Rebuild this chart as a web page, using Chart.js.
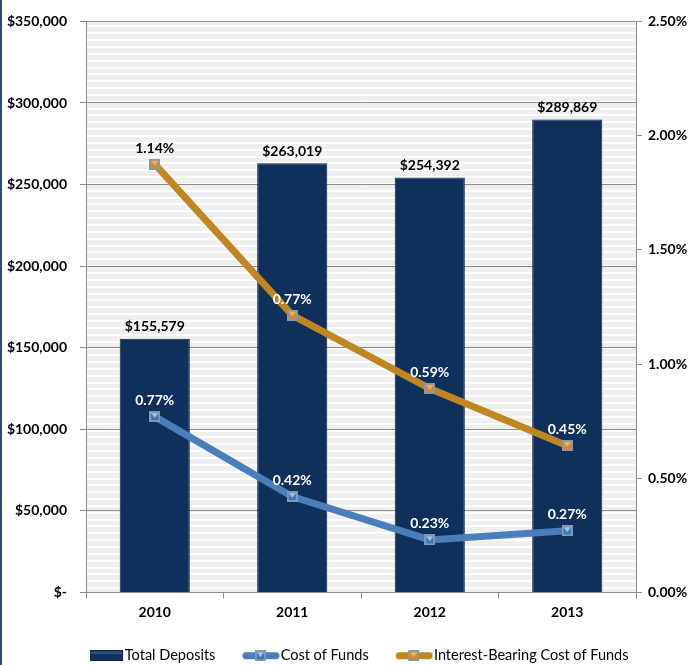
<!DOCTYPE html>
<html>
<head>
<meta charset="utf-8">
<script src="https://cdn.jsdelivr.net/npm/chart.js@4"></script>
<style>
  html, body { margin: 0; padding: 0; background: #fff; }
  #wrap { position: relative; width: 694px; height: 665px; }
  #edge { position: absolute; left: 0; top: 0; width: 2px; height: 665px; background: #2c4a7c; }
</style>
</head>
<body>
<div id="wrap">
  <canvas id="depositsChart" width="694" height="665"></canvas>
  <div id="edge"></div>
</div>
<script>
// data
const years = ['2010', '2011', '2012', '2013'];
const totalDeposits = [155579, 263019, 254392, 289869];
const costOfFunds = [0.77, 0.42, 0.23, 0.27];
const interestBearingCost = [1.14, 0.77, 0.59, 0.45];
const seriesNames = ['Total Deposits', 'Cost of Funds', 'Interest-Bearing Cost of Funds'];

const FONT = 'Lato, "Open Sans", sans-serif';
const NAVY = '#10305c';
const BLUE = '#4a7ebb';
const ORANGE = '#c0861f';

// little square markers with a triangle inside
function makeMarker(fill, tri) {
    const c = document.createElement('canvas');
    c.width = 11; c.height = 11;
    const g = c.getContext('2d');
    g.fillStyle = '#8797ad';
    g.fillRect(0, 0, 11, 11);
    g.fillStyle = fill;
    g.fillRect(2, 2, 7, 7);
    g.fillStyle = tri;
    g.beginPath();
    g.moveTo(2, 2); g.lineTo(9, 2); g.lineTo(5.5, 7); g.closePath();
    g.fill();
    return c;
}
const blueMarker = makeMarker('#3a73ba', '#93c6f2');
const orangeMarker = makeMarker('#d9862a', '#f7b24a');

// legend swatches: drawn at the right end of a wider canvas so they sit
// close to their text and leave a larger gap before each item
const SW_W = 65;
function swatchCanvas(draw, w) {
    const c = document.createElement('canvas');
    c.width = SW_W; c.height = 11;
    const g = c.getContext('2d');
    g.translate(SW_W - w, 0);
    draw(g);
    return c;
}
function barSwatch() {
    return swatchCanvas(g => {
        g.fillStyle = '#0c2548';
        g.fillRect(0, 0, 33, 11);
        g.fillStyle = '#2d4f80';
        g.fillRect(1, 1, 31, 3);
        g.fillStyle = NAVY;
        g.fillRect(1, 4, 31, 6);
    }, 34);
}
function lineSwatch(color, marker) {
    return swatchCanvas(g => {
        g.strokeStyle = color;
        g.lineWidth = 7;
        g.lineCap = 'round';
        g.beginPath(); g.moveTo(4, 5.5); g.lineTo(34, 5.5); g.stroke();
        g.drawImage(marker, 13, 0);
    }, 38);
}
const swatches = [barSwatch(), lineSwatch(BLUE, blueMarker), lineSwatch(ORANGE, orangeMarker)];

// striped plot background
const stripes = {
    id: 'stripes',
    beforeDraw(chart) {
        const { ctx, chartArea: a } = chart;
        ctx.save();
        ctx.fillStyle = '#efefef';
        ctx.fillRect(a.left, a.top, a.right - a.left, a.bottom - a.top);
        ctx.fillStyle = '#ffffff';
        for (let y = a.top + 4; y < a.bottom; y += 6.85) {
            ctx.fillRect(a.left + 1, Math.round(y), a.right - a.left - 2, 2);
        }
        ctx.restore();
    }
};

// value labels over the bars and points
const valueLabels = {
    id: 'valueLabels',
    afterDatasetsDraw(chart) {
        const ctx = chart.ctx;
        const bars = chart.getDatasetMeta(0).data;
        ctx.save();
        ctx.font = 'bold 14px ' + FONT;
        ctx.textAlign = 'center';
        ctx.textBaseline = 'bottom';
        bars.forEach((el, i) => {
            ctx.fillStyle = '#000';
            ctx.fillText('$' + totalDeposits[i].toLocaleString('en-US'), el.x, el.y - 5);
        });
        [1, 2].forEach(d => {
            const vals = chart.data.datasets[d].data;
            chart.getDatasetMeta(d).data.forEach((pt, i) => {
                const ty = pt.y - 9;
                ctx.fillStyle = (ty - 14 > bars[i].y) ? '#ffffff' : '#000000';
                ctx.fillText(vals[i].toFixed(2) + '%', pt.x, ty);
            });
        });
        ctx.restore();
    }
};

const ctx = document.getElementById('depositsChart').getContext('2d');
const chart = new Chart(ctx, {
    data: {
        labels: years,
        datasets: [{
            type: 'bar',
            label: seriesNames[0],
            data: totalDeposits,
            yAxisID: 'y',
            order: 3,
            backgroundColor(c) {
                const el = c.element;
                const area = c.chart.chartArea;
                if (!el || !area || !isFinite(el.x)) return NAVY;
                const w = el.width || 70;
                const g = c.chart.ctx.createLinearGradient(el.x - w / 2, 0, el.x + w / 2, 0);
                g.addColorStop(0, '#26477a');
                g.addColorStop(0.08, '#143563');
                g.addColorStop(0.5, '#0f2c56');
                g.addColorStop(0.92, '#123260');
                g.addColorStop(1, '#26477a');
                return g;
            },
            borderColor: '#0a1e3c',
            borderWidth: 1,
            barPercentage: 0.51,
            categoryPercentage: 1.0
        }, {
            type: 'line',
            label: seriesNames[1],
            data: costOfFunds,
            yAxisID: 'y2',
            order: 2,
            borderColor: BLUE,
            borderWidth: 7,
            pointStyle: blueMarker,
            pointRadius: 5,
            tension: 0
        }, {
            type: 'line',
            label: seriesNames[2],
            data: interestBearingCost,
            yAxisID: 'y3',
            order: 1,
            borderColor: ORANGE,
            borderWidth: 7,
            pointStyle: orangeMarker,
            pointRadius: 5,
            tension: 0
        }]
    },
    options: {
        responsive: false,
        animation: false,
        events: [],
        layout: { padding: { top: 17, right: 0, left: 0, bottom: -8 } },
        scales: {
            x: {
                offset: true,
                grid: {
                    offset: true,
                    drawOnChartArea: false,
                    color: '#8c8c8c',
                    tickLength: 6
                },
                border: { color: '#8c8c8c' },
                ticks: { color: '#000', font: { family: FONT, size: 14, weight: 'bold' }, padding: 6 },
                afterFit(s) { s.height = 50; }
            },
            y: {
                position: 'left',
                min: 0,
                max: 350000,
                ticks: {
                    stepSize: 50000,
                    color: '#000',
                    font: { family: FONT, size: 14, weight: 'bold' },
                    padding: 13,
                    callback: v => v === 0 ? '$-' : '$' + v.toLocaleString('en-US')
                },
                grid: { color: '#8c8c8c', tickLength: 6 },
                border: { color: '#8c8c8c' },
                afterFit(s) { s.width = 86; }
            },
            y2: {
                position: 'right',
                min: 0,
                max: 2.5,
                ticks: {
                    stepSize: 0.5,
                    color: '#000',
                    font: { family: FONT, size: 14, weight: 'bold' },
                    padding: 6,
                    callback: v => v.toFixed(2) + '%'
                },
                grid: { drawOnChartArea: false, color: '#8c8c8c', tickLength: 6 },
                border: { color: '#8c8c8c' },
                afterFit(s) { s.width = 58; }
            },
            y3: {
                display: false,
                min: 0.09,
                max: 1.49
            }
        },
        plugins: {
            tooltip: { enabled: false },
            legend: {
                position: 'bottom',
                labels: {
                    usePointStyle: true,
                    pointStyleWidth: 52,
                    padding: 6,
                    color: '#000',
                    font: { family: FONT, size: 14.5 },
                    generateLabels: () => seriesNames.map((name, i) => ({
                        text: name,
                        pointStyle: swatches[i],
                        fillStyle: 'transparent',
                        strokeStyle: 'transparent',
                        lineWidth: 0,
                        fontColor: '#000',
                        datasetIndex: i,
                        hidden: false
                    }))
                }
            }
        }
    },
    plugins: [stripes, valueLabels]
});
</script>
</body>
</html>
